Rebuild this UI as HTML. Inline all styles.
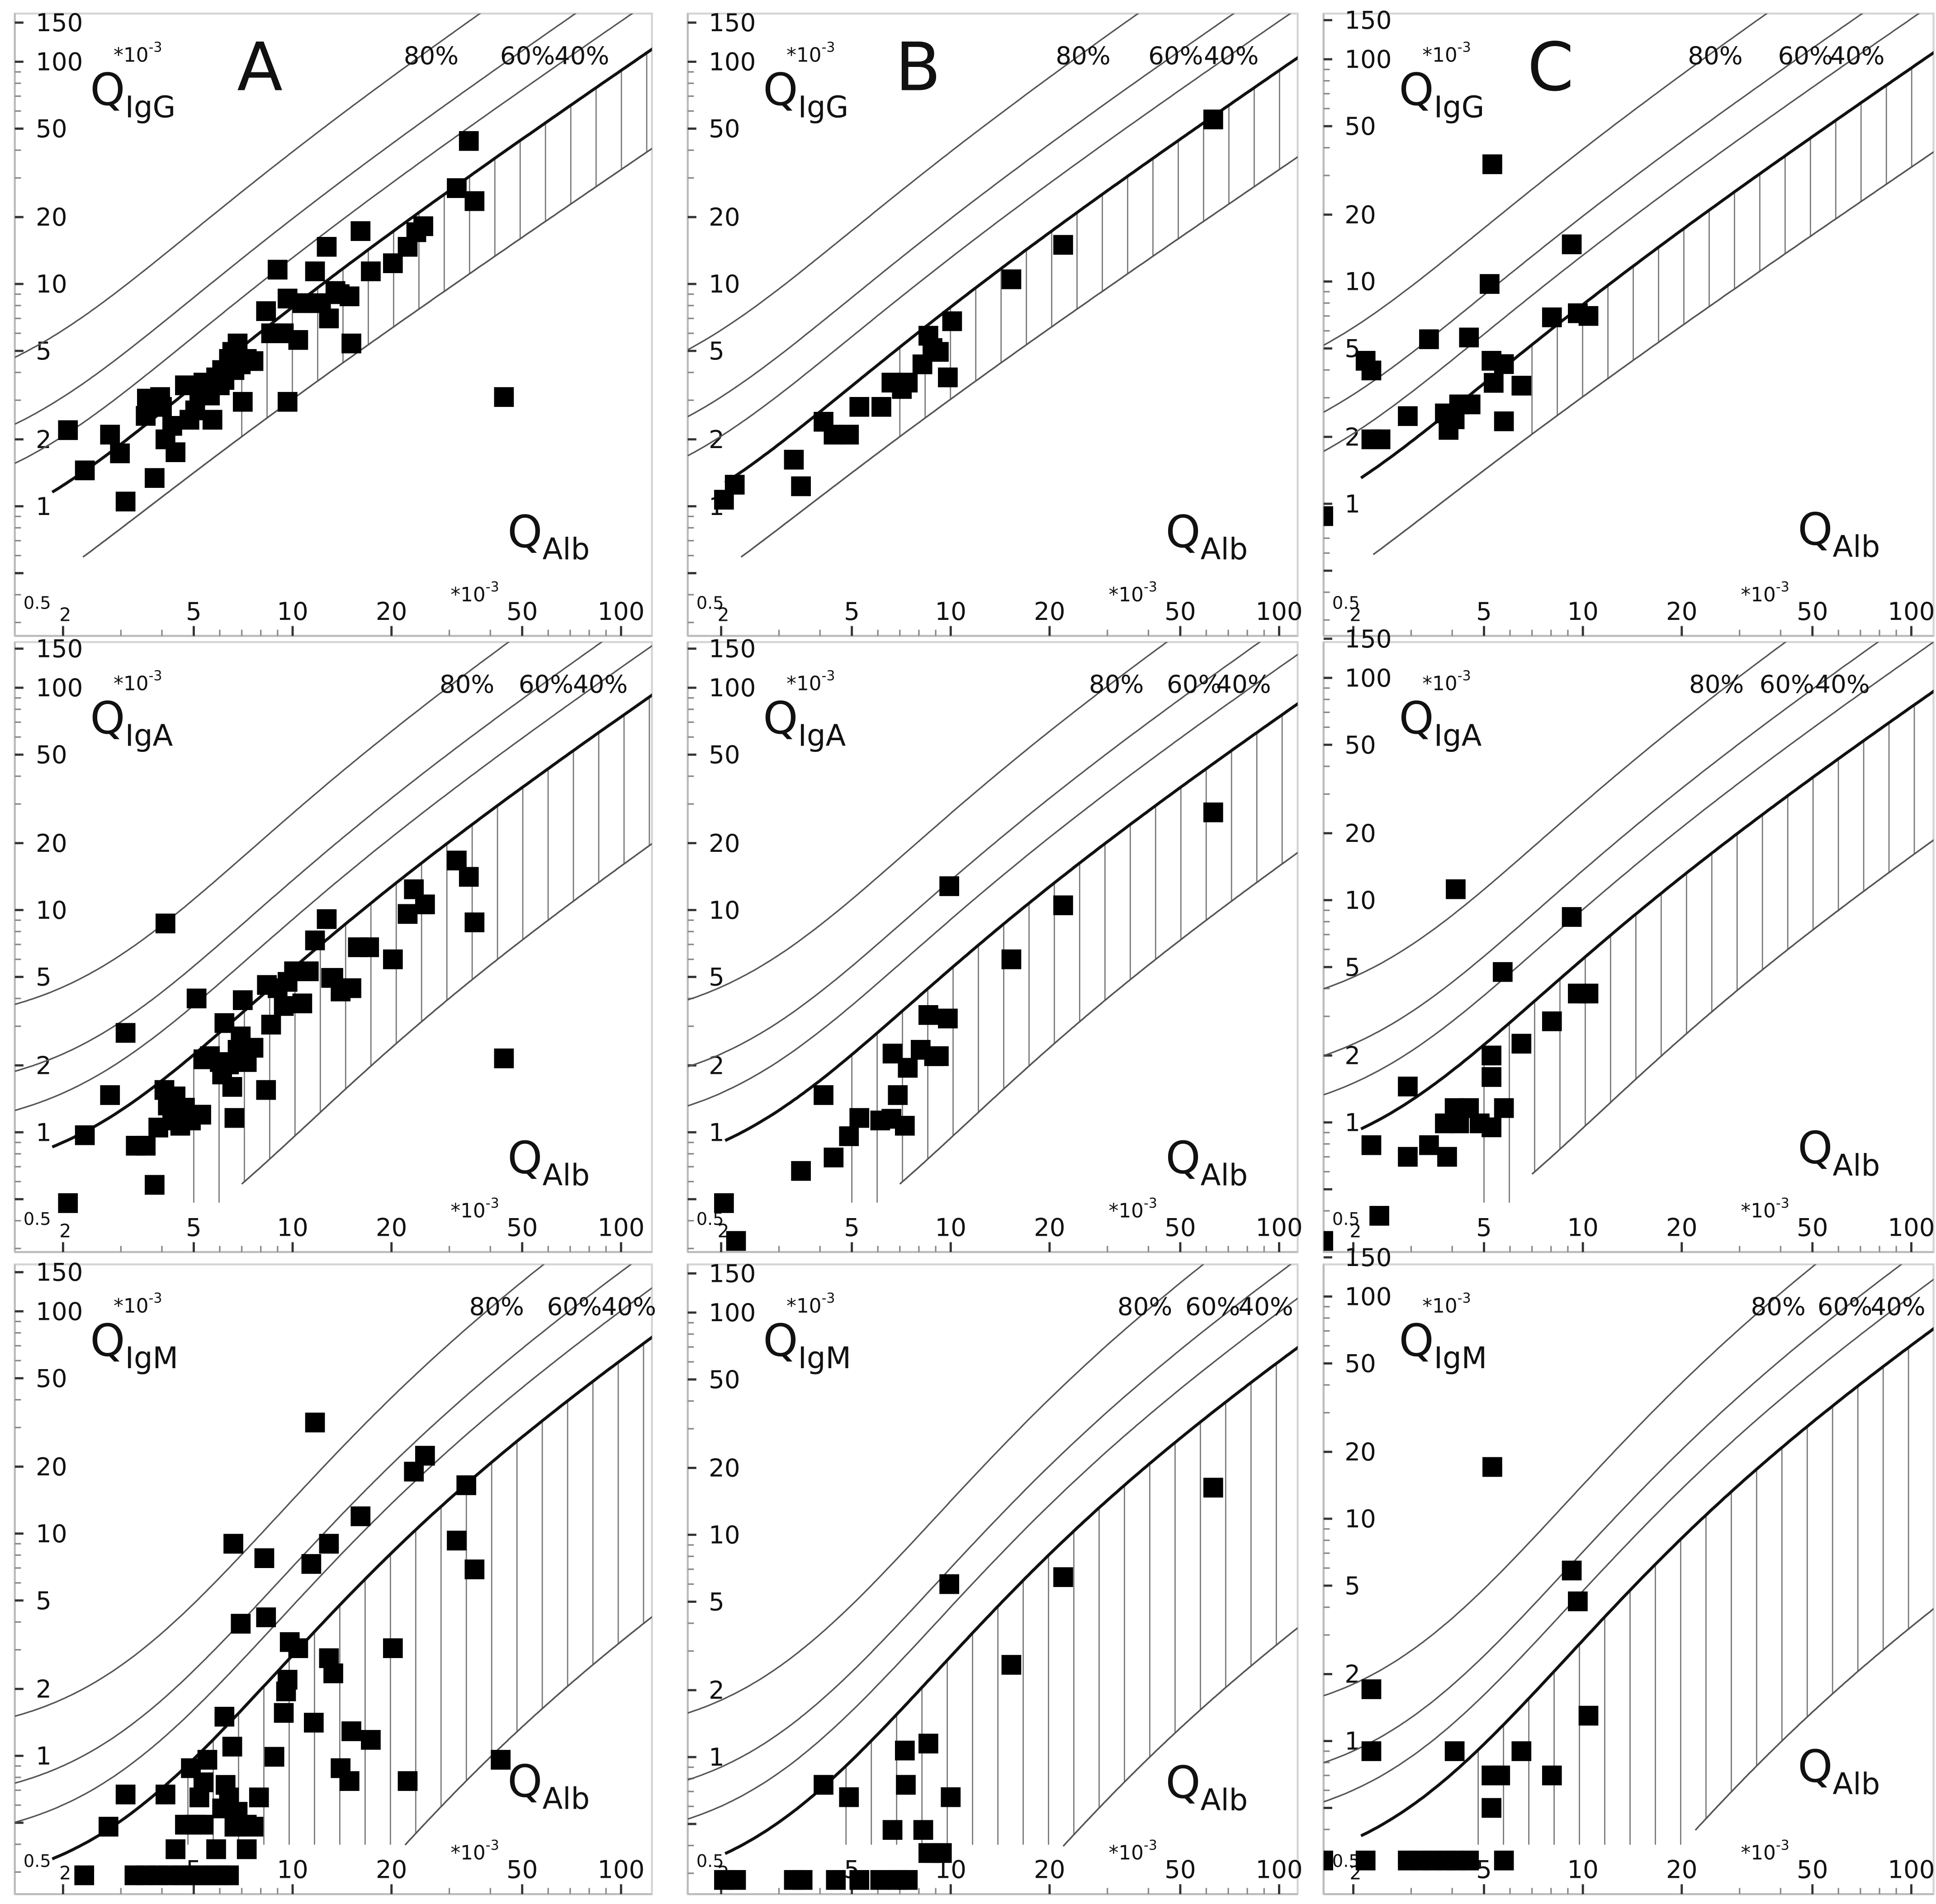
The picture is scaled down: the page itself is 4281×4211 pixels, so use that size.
<!DOCTYPE html>
<html><head><meta charset="utf-8"><style>
html,body{margin:0;padding:0;background:#fff;overflow:hidden;width:4281px;height:4211px;}
svg{display:block;}
text{font-family:"DejaVu Sans","Liberation Sans",sans-serif;fill:#111;}
</style></head><body>
<svg id="fig" xmlns="http://www.w3.org/2000/svg" width="4281" height="4211" viewBox="0 0 1568 1542" preserveAspectRatio="none">
<rect x="0" y="0" width="1568" height="1542" fill="#fff"/>
</svg>
<script>
// ---- data (QAlb x10^-3, QIg x10^-3) ----
const yTickLabels = [150, 100, 50, 20, 10, 5, 2, 1];
const xTickLabels = [5, 10, 20, 50, 100];
const percentLabels = ["80%", "60%", "40%"];
const percentFractions = [0.8, 0.6, 0.4];

const a1X = [2.07,2.33,2.78,2.98,3.1,3.57,3.8,3.6,3.95,4.0,4.1,4.3,4.4,4.7,4.85,5.05,5.2,5.35,5.6,5.7,5.85,6.0,6.1,6.2,6.4,6.55,6.65,6.8,6.95,7.05,7.25,7.6,8.3,8.6,9.0,9.4,9.65,9.65,10.4,10.7,11.7,12.2,12.7,12.9,13.5,13.9,14.9,15.1,16.1,17.3,20.2,22.4,23.8,25,31.6,34.4,35.8,44];
const a1Y = [2.2,1.45,2.1,1.73,1.05,2.55,1.34,3.05,3.1,2.8,2.0,2.3,1.75,3.5,2.45,2.7,3.25,3.6,3.15,2.45,3.8,3.5,4.1,3.7,4.6,4.95,4.1,5.4,4.35,2.95,4.6,4.5,7.55,6.0,11.6,6.0,2.95,8.6,5.6,8.2,11.4,8.2,14.7,7.0,9.3,9.0,8.8,5.4,17.3,11.4,12.4,14.7,17.1,18.2,27,44,23.6,3.1];
const b1X = [2.04,2.2,3.33,3.5,4.1,4.4,4.9,5.27,6.15,6.6,7.1,7.4,8.2,8.55,8.8,9.2,9.8,10.1,15.3,22,63];
const b1Y = [1.07,1.25,1.62,1.23,2.4,2.1,2.1,2.8,2.8,3.6,3.37,3.6,4.35,5.85,5.15,4.95,3.8,6.8,10.5,15,55];
const c1X = [1.62,2.18,2.27,2.27,2.42,2.93,3.4,3.8,3.9,4.07,4.2,4.5,4.55,5.2,5.27,5.3,5.35,5.75,5.75,6.5,8.05,9.25,9.65,10.4];
const c1Y = [0.88,4.4,3.98,1.95,1.95,2.48,5.5,2.55,2.15,2.4,2.8,5.6,2.8,9.75,4.4,33.7,3.5,4.25,2.35,3.4,6.9,14.7,7.2,7.0];

const a2X = [2.07,2.33,2.78,3.1,3.33,3.57,3.8,3.9,4.07,4.17,4.3,4.4,4.55,4.7,4.9,5.1,5.27,5.35,5.6,6.0,6.1,6.2,6.4,6.55,6.65,6.8,6.95,7.05,7.25,7.6,8.3,8.35,8.6,9.0,9.4,9.65,10.1,10.7,11.2,11.7,12.7,13.1,13.3,14,15.1,15.8,17.1,20.2,22.4,23.4,25.3,31.6,34.4,35.8,44,4.1];
const a2Y = [0.48,0.97,1.47,2.8,0.87,0.87,0.58,1.05,1.55,1.32,1.13,1.45,1.07,1.29,1.13,4.0,1.2,2.13,2.2,2.07,1.82,3.1,2.02,1.6,1.16,2.35,2.7,3.93,2.07,2.4,1.55,4.6,3.05,4.45,3.7,4.75,5.3,3.8,5.3,7.3,9.1,4.95,4.95,4.3,4.45,6.8,6.8,6.0,9.6,12.4,10.6,16.7,14.1,8.8,2.15,8.7];
const b2X = [2.04,2.22,3.5,4.1,4.4,4.9,5.27,6.1,6.6,6.65,6.9,7.25,7.4,8.1,8.55,8.9,9.2,9.8,9.9,15.3,22,63];
const b2Y = [0.48,0.28,0.67,1.47,0.77,0.96,1.16,1.13,1.15,2.26,1.47,1.07,1.95,2.35,3.37,2.2,2.2,3.25,12.8,6.0,10.5,27.5];
const c2X = [1.62,2.27,2.4,2.93,2.93,3.4,3.86,3.8,4.07,4.1,4.2,4.5,4.85,5.27,5.27,5.27,5.7,5.75,6.5,8.05,9.25,9.65,10.4];
const c2Y = [0.29,0.79,0.38,1.45,0.7,0.79,0.7,0.99,1.16,11.2,0.99,1.16,0.99,0.95,1.6,2.0,4.75,1.16,2.26,2.85,8.4,3.8,3.8];

const a3X = [2.32,2.75,3.1,3.3,3.57,3.9,4.1,4.2,4.4,4.6,4.7,4.9,4.9,5.05,5.2,5.2,5.35,5.35,5.5,5.7,5.85,6.0,6.1,6.2,6.25,6.4,6.4,6.55,6.6,6.65,6.8,6.95,7.25,7.25,7.6,7.9,8.2,8.3,8.8,9.4,9.55,9.65,9.8,10.4,11.4,11.6,11.7,12.9,12.9,13.3,14,14.9,15.1,16.1,17.3,20.2,22.4,23.4,25.3,31.6,33.8,35.8,43];
const a3Y = [0.29,0.48,0.67,0.29,0.29,0.29,0.67,0.29,0.38,0.29,0.49,0.88,0.29,0.49,0.65,0.29,0.49,0.76,0.96,0.29,0.38,0.29,0.58,1.5,0.74,0.65,0.29,1.1,9.0,0.48,0.56,3.93,0.49,0.38,0.48,0.65,7.75,4.2,0.99,1.56,1.95,2.2,3.25,3.05,7.3,1.41,31.6,9.0,2.75,2.35,0.88,0.77,1.29,11.96,1.18,3.05,0.77,19,22.4,9.3,16.5,6.9,0.96];
const b3X = [2.04,2.22,3.33,3.54,4.1,4.47,4.9,5.27,6.1,6.65,6.9,7.25,7.3,7.4,8.25,8.55,8.55,8.9,9.4,9.9,10,15.3,22,63];
const b3Y = [0.28,0.28,0.28,0.28,0.75,0.28,0.66,0.28,0.28,0.47,0.28,1.07,0.75,0.28,0.47,0.37,1.15,0.37,0.37,6.0,0.66,2.6,6.45,16.3];
const c3X = [1.62,2.18,2.27,2.27,2.93,3.2,3.48,3.8,4.07,4.1,4.5,5.27,5.27,5.3,5.6,5.75,6.5,8.05,9.25,9.65,10.4];
const c3Y = [0.29,0.29,1.71,0.9,0.29,0.29,0.29,0.29,0.9,0.29,0.29,0.7,0.5,17.1,0.7,0.29,0.9,0.7,5.85,4.25,1.3];

// Reiber hyperbolic limits (units x10^-3): Q = ab*sqrt(QAlb^2 + b2) - c
const igParams = {
  IgG: {up:[0.93,6,1.7], low:[0.33,2,0.3], lowStart:2.3, hatchStart:7},
  IgA: {up:[0.77,23,3.1], low:[0.17,74,1.3], lowStart:7, hatchStart:5},
  IgM: {up:[0.67,120,7.1], low:[0.04,442,0.82], lowStart:22, hatchStart:4.8}
};

const panels = [
 {id:'a1',ig:'IgG',X:a1X,Y:a1Y,axisX:12,right:528,top:11,bottom:515,x10:237,y10:230,letter:'A',pl:[90,168,212]},
 {id:'b1',ig:'IgG',X:b1X,Y:b1Y,axisX:557,right:1051,top:11,bottom:515,x10:770,y10:230,letter:'B',pl:[85,160,205]},
 {id:'c1',ig:'IgG',X:c1X,Y:c1Y,axisX:1072,right:1566,top:11,bottom:515,x10:1282,y10:228,letter:'C',pl:[85,158,200]},
 {id:'a2',ig:'IgA',X:a2X,Y:a2Y,axisX:12,right:528,top:520,bottom:1014,x10:237,y10:737,pl:[119,183,227]},
 {id:'b2',ig:'IgA',X:b2X,Y:b2Y,axisX:557,right:1051,top:520,bottom:1014,x10:770,y10:737,pl:[112,175,215]},
 {id:'c2',ig:'IgA',X:c2X,Y:c2Y,axisX:1072,right:1566,top:520,bottom:1014,x10:1282,y10:729,pl:[86,143,188]},
 {id:'a3',ig:'IgM',X:a3X,Y:a3Y,axisX:12,right:528,top:1024,bottom:1534,x10:237,y10:1242,pl:[143,206,250]},
 {id:'b3',ig:'IgM',X:b3X,Y:b3Y,axisX:557,right:1051,top:1024,bottom:1534,x10:770,y10:1243,pl:[135,190,233]},
 {id:'c3',ig:'IgM',X:c3X,Y:c3Y,axisX:1072,right:1566,top:1024,bottom:1534,x10:1282,y10:1230,pl:[136,190,233]}
];

const NS='http://www.w3.org/2000/svg';
const svg=document.getElementById('fig');
function mk(tag,attrs,parent){const e=document.createElementNS(NS,tag);for(const k in attrs)e.setAttribute(k,attrs[k]);(parent||svg).appendChild(e);return e;}
function xs(p,q){return p.x10+266*Math.log10(q/10);}
function ys(p,q){return p.y10-180*Math.log10(q/10);}
function lim(par,q){return par[0]*Math.sqrt(q*q+par[1])-par[2];}
function xinv(p,px){return 10*Math.pow(10,(px-p.x10)/266);}

panels.forEach(p=>{
  const g=mk('g',{});
  
  
  const cp=mk('clipPath',{id:'clip-'+p.id},g);
  mk('rect',{x:p.axisX,y:p.top,width:p.right-p.axisX,height:p.bottom-p.top},cp);
  const fr=mk('rect',{x:p.axisX,y:p.top,width:p.right-p.axisX,height:p.bottom-p.top,fill:'none',stroke:'#d4d4d4','stroke-width':1.6},g);
  
  
  const yl=mk('line',{x1:p.axisX,y1:p.top,x2:p.axisX,y2:p.bottom,stroke:'#bbb','stroke-width':1.6},g);
  
  
  const xl=mk('line',{x1:p.axisX,y1:p.bottom,x2:p.right,y2:p.bottom,stroke:'#bbb','stroke-width':1.6},g);
  
  
  [0.1,1,10,100].forEach(dec=>{for(let m=1;m<10;m++){const v=dec*m;const y=ys(p,v);if(y<p.top+2||y>p.bottom-2)continue;
    const major=(m===1||m===2||m===5);
    mk('line',{x1:p.axisX,y1:y,x2:p.axisX+(major?7:5),y2:y,stroke:major?'#333':'#888','stroke-width':major?1.8:1.2},g);}});
  const t150=ys(p,150);mk('line',{x1:p.axisX,y1:t150,x2:p.axisX+7,y2:t150,stroke:'#333','stroke-width':1.8},g);
  [1,10,100].forEach(dec=>{for(let m=1;m<10;m++){const v=dec*m;const x=xs(p,v);if(x<p.axisX+2||x>p.right-2)continue;
    const major=(m===1||m===2||m===5);
    mk('line',{x1:x,y1:p.bottom,x2:x,y2:p.bottom-(major?8:5),stroke:major?'#333':'#888','stroke-width':major?1.8:1.2},g);}});
  yTickLabels.forEach(v=>{const t=mk('text',{x:p.axisX+17,y:ys(p,v)+7,'font-size':20},g);t.textContent=v;
    
    });
  const t05=mk('text',{x:p.axisX+7,y:p.bottom-22,'font-size':14,fill:'#333'},g);t05.textContent='0.5';
  
  
  const t2=mk('text',{x:xs(p,2)-3,y:p.bottom-12,'font-size':15},g);t2.textContent='2';
  
  
  xTickLabels.forEach(v=>{const t=mk('text',{x:xs(p,v),y:p.bottom-13,'font-size':20,'text-anchor':'middle'},g);t.textContent=v;
    
    });
  const xu=mk('text',{x:xs(p,33)-10,y:p.bottom-28,'font-size':16},g);xu.innerHTML='*10<tspan dy="-8" font-size="11">-3</tspan>';
  
  
  const cg=mk('g',{'clip-path':'url(#clip-'+p.id+')'},g);
  const prm=igParams[p.ig];
  const qmin=xinv(p,p.axisX);
  function poly(f,q0,w,col,name){let pts=[];for(let i=0;i<=200;i++){const q=q0*Math.pow(200/q0,i/200);const v=f(q);if(v<=0)continue;pts.push(xs(p,q).toFixed(1)+','+ys(p,v).toFixed(1));}
    const e=mk('polyline',{points:pts.join(' '),fill:'none',stroke:col,'stroke-width':w},cg);
    
    }
  for(let px=xs(p,prm.hatchStart);px<p.right;px+=20.5){const q=xinv(p,px);const up=lim(prm.up,q);const lo=lim(prm.low,q);
    const y1=ys(p,up);let y2=(lo>0&&q>=prm.lowStart)?ys(p,lo):p.bottom;y2=Math.min(y2,p.bottom-40);if(y2<=y1)continue;
    const h=mk('line',{x1:px,y1:y1,x2:px,y2:y2,stroke:'#777','stroke-width':1},cg);
    
    }
  poly(q=>lim(prm.low,q),prm.lowStart,1.3,'#555','lower-limit-line');
  poly(q=>lim(prm.up,q)/(1-0.8),qmin,1.2,'#555','fraction-80-line');
  poly(q=>lim(prm.up,q)/(1-0.6),qmin,1.2,'#555','fraction-60-line');
  poly(q=>lim(prm.up,q)/(1-0.4),qmin,1.2,'#555','fraction-40-line');
  poly(q=>lim(prm.up,q),qmin*1.3,2.4,'#111','upper-limit-line');
  p.X.forEach((qx,i)=>{const s=mk('rect',{x:xs(p,qx)-8,y:Math.min(ys(p,p.Y[i]),p.bottom-9)-8,width:16,height:16,fill:'#000'},cg);
    
    });
  percentLabels.forEach((lab,i)=>{const t=mk('text',{x:p.x10+p.pl[i],y:p.top+41,'font-size':20},g);t.textContent=lab;
    
    });
  const yu=mk('text',{x:p.axisX+80,y:p.top+39,'font-size':16},g);yu.innerHTML='*10<tspan dy="-8" font-size="11">-3</tspan>';
  
  
  const yt=mk('text',{x:p.axisX+61,y:p.top+74,'font-size':36},g);yt.innerHTML='Q<tspan dy="10" font-size="24">'+p.ig+'</tspan>';
  
  
  const xt=mk('text',{x:p.x10+174,y:p.y10+213,'font-size':36},g);xt.innerHTML='Q<tspan dy="10" font-size="24">Alb</tspan>';
  
  
  if(p.letter){const L=mk('text',{x:p.x10-45,y:p.top+62,'font-size':54},g);L.textContent=p.letter;
    
    }
});
</script>
</body></html>
